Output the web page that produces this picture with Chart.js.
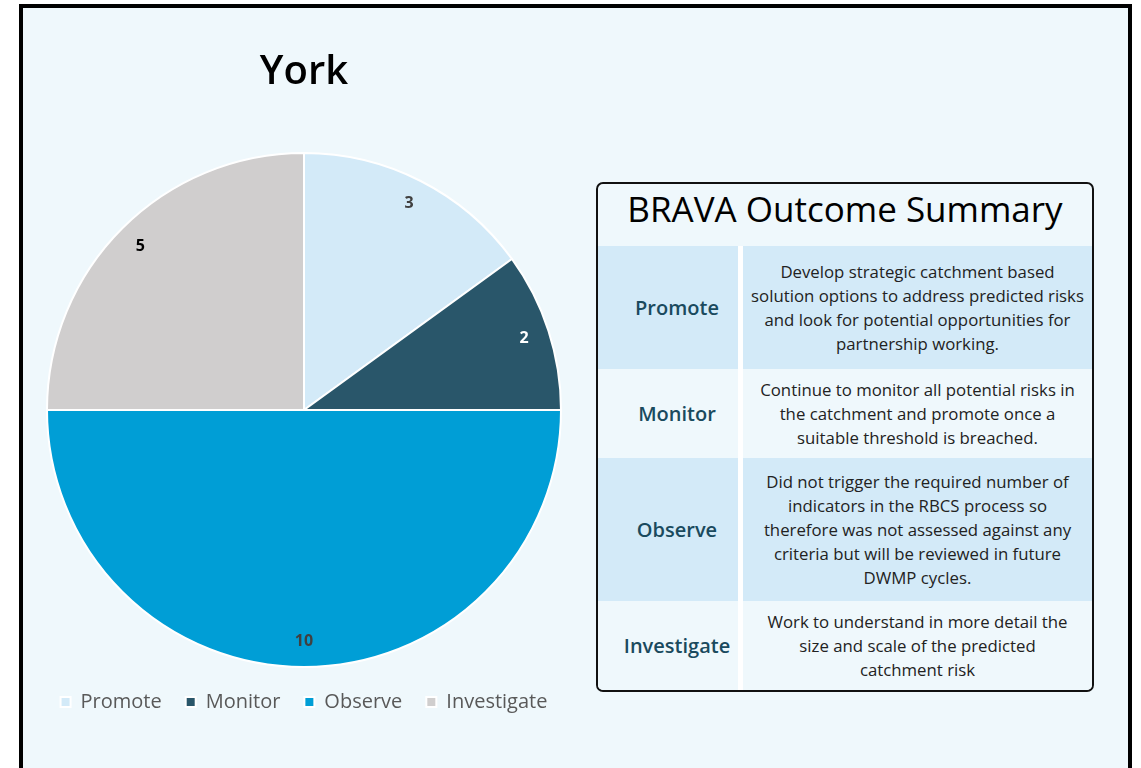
<!DOCTYPE html>
<html>
<head>
<meta charset="utf-8">
<script src="https://cdn.jsdelivr.net/npm/chart.js@4/dist/chart.umd.min.js"></script>
<style>
  html, body { margin: 0; padding: 0; background: #ffffff; width: 1141px; height: 768px; overflow: hidden; }
  body { font-family: "Open Sans", sans-serif; position: relative; }
  .frame {
    position: absolute; left: 19px; top: 4px; width: 1105px; height: 800px;
    border: 4px solid #000; background: #eff8fc;
  }
  .chart-box { position: absolute; left: 22px; top: 0; width: 564px; height: 768px; }
  .summary {
    position: absolute; left: 596px; top: 182px; width: 494px; height: 506px;
    border: 2px solid #111; border-radius: 7px; background: #eff8fc; overflow: hidden;
  }
  .summary h2 {
    margin: 0; height: 62px; line-height: 50px; text-align: center;
    font-size: 35px; font-weight: 500; color: #000;
  }
  .row { display: flex; }
  .row .name {
    width: 140px; box-sizing: border-box; padding-left: 18px;
    display: flex; align-items: center; justify-content: center;
    font-size: 20px; font-weight: 600; color: #1a4a5e;
  }
  .row .desc {
    flex: 1; border-left: 5px solid #ffffff; display: flex; align-items: center; justify-content: center;
    text-align: center; font-size: 16.8px; line-height: 24px; color: #222; white-space: nowrap;
  }
  .row.dark { background: #d3eaf8; }
  .row.light { background: #eff8fc; }
</style>
</head>
<body>
<div class="frame"></div>
<div class="chart-box"><canvas id="pie"></canvas></div>

<div class="summary">
  <h2>BRAVA Outcome Summary</h2>
  <div class="row dark" style="height:123px">
    <div class="name">Promote</div>
    <div class="desc">Develop strategic catchment based<br>solution options to address predicted risks<br>and look for potential opportunities for<br>partnership working.</div>
  </div>
  <div class="row light" style="height:89px">
    <div class="name">Monitor</div>
    <div class="desc">Continue to monitor all potential risks in<br>the catchment and promote once a<br>suitable threshold is breached.</div>
  </div>
  <div class="row dark" style="height:143px">
    <div class="name">Observe</div>
    <div class="desc">Did not trigger the required number of<br>indicators in the RBCS process so<br>therefore was not assessed against any<br>criteria but will be reviewed in future<br>DWMP cycles.</div>
  </div>
  <div class="row light" style="height:89px">
    <div class="name">Investigate</div>
    <div class="desc">Work to understand in more detail the<br>size and scale of the predicted<br>catchment risk</div>
  </div>
</div>

<script>
const categories = ['Promote', 'Monitor', 'Observe', 'Investigate'];
const counts = [3, 2, 10, 5];
const sliceColors = ['#d3eaf8', '#29566a', '#009ed6', '#d0cece'];
const labelColors = ['#404040', '#ffffff', '#404040', '#000000'];

// draws the value inside each slice, near the outer edge
const sliceLabels = {
  id: 'sliceLabels',
  afterDatasetsDraw(chart) {
    const ctx = chart.ctx;
    const meta = chart.getDatasetMeta(0);
    ctx.save();
    ctx.font = 'bold 16px "Open Sans", sans-serif';
    ctx.textAlign = 'center';
    ctx.textBaseline = 'middle';
    meta.data.forEach((arc, i) => {
      const p = arc.getProps(['x', 'y', 'startAngle', 'endAngle', 'outerRadius'], true);
      const mid = (p.startAngle + p.endAngle) / 2;
      const r = p.outerRadius * 0.9;
      ctx.fillStyle = labelColors[i];
      ctx.fillText(String(counts[i]), p.x + Math.cos(mid) * r, p.y + Math.sin(mid) * r);
    });
    ctx.restore();
  }
};

new Chart(document.getElementById('pie'), {
  type: 'pie',
  data: {
    labels: categories,
    datasets: [{
      data: counts,
      backgroundColor: sliceColors,
      borderColor: '#ffffff',
      borderWidth: 2
    }]
  },
  options: {
    responsive: true,
    maintainAspectRatio: false,
    animation: false,
    layout: { padding: { left: 0, right: 0, top: 0, bottom: 46 } },
    plugins: {
      title: {
        display: true,
        text: 'York',
        color: '#000',
        font: { family: '"Open Sans", sans-serif', size: 40, weight: '600' },
        padding: { top: 49, bottom: 55 }
      },
      legend: {
        position: 'bottom',
        labels: {
          boxWidth: 10,
          boxHeight: 10,
          padding: 24,
          color: '#595959',
          font: { family: '"Open Sans", sans-serif', size: 20 }
        }
      },
      tooltip: { enabled: false }
    }
  },
  plugins: [sliceLabels]
});
</script>
</body>
</html>
